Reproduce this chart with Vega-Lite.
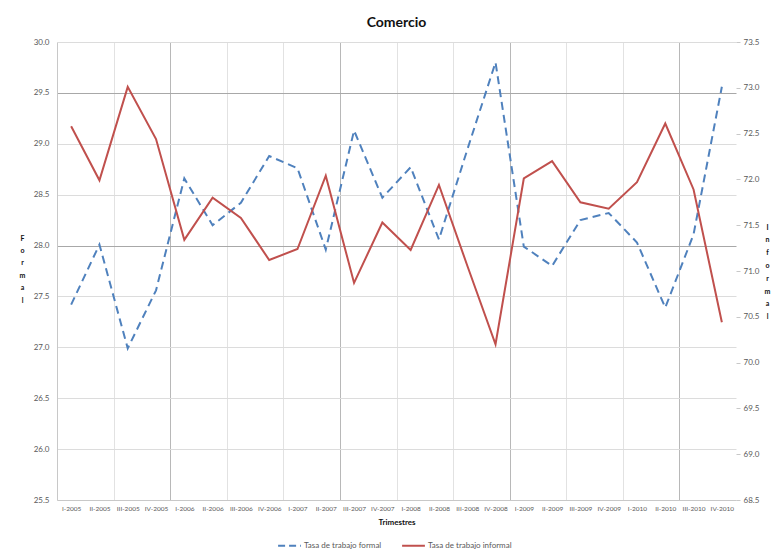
{
  "$schema": "https://vega.github.io/schema/vega-lite/v6.json",
  "autosize": "none",
  "width": 679,
  "height": 458,
  "padding": {"left": 57, "top": 42, "right": 40, "bottom": 57},
  "background": "white",
  "config": {
    "font": "Lato",
    "view": {"stroke": null},
    "axis": {"labelFont": "Lato", "titleFont": "Lato"}
  },
  "title": {
    "text": "Comercio",
    "fontSize": 14,
    "fontWeight": "bold",
    "color": "#111111",
    "anchor": "middle",
    "offset": 8
  },
  "data": {
    "values": [
      {"q": "I-2005", "formal": 27.42, "informal": 72.58},
      {"q": "II-2005", "formal": 28.01, "informal": 71.99},
      {"q": "III-2005", "formal": 26.99, "informal": 73.01},
      {"q": "IV-2005", "formal": 27.56, "informal": 72.44},
      {"q": "I-2006", "formal": 28.66, "informal": 71.34},
      {"q": "II-2006", "formal": 28.2, "informal": 71.8},
      {"q": "III-2006", "formal": 28.42, "informal": 71.58},
      {"q": "IV-2006", "formal": 28.88, "informal": 71.12},
      {"q": "I-2007", "formal": 28.76, "informal": 71.24},
      {"q": "II-2007", "formal": 27.96, "informal": 72.04},
      {"q": "III-2007", "formal": 29.13, "informal": 70.87},
      {"q": "IV-2007", "formal": 28.47, "informal": 71.53},
      {"q": "I-2008", "formal": 28.77, "informal": 71.23},
      {"q": "II-2008", "formal": 28.06, "informal": 71.94},
      {"q": "III-2008", "formal": 28.94, "informal": 71.06},
      {"q": "IV-2008", "formal": 29.8, "informal": 70.2},
      {"q": "I-2009", "formal": 27.99, "informal": 72.01},
      {"q": "II-2009", "formal": 27.8, "informal": 72.2},
      {"q": "III-2009", "formal": 28.25, "informal": 71.75},
      {"q": "IV-2009", "formal": 28.32, "informal": 71.68},
      {"q": "I-2010", "formal": 28.03, "informal": 71.97},
      {"q": "II-2010", "formal": 27.39, "informal": 72.61},
      {"q": "III-2010", "formal": 28.11, "informal": 71.89},
      {"q": "IV-2010", "formal": 29.56, "informal": 70.44}
    ]
  },
  "encoding": {
    "x": {
      "field": "q",
      "type": "ordinal",
      "sort": null,
      "bandPosition": 0.5,
      "scale": {"type": "band", "paddingInner": 0, "paddingOuter": 0},
      "axis": {
        "title": "Trimestres",
        "titleFontSize": 8,
        "titleFontWeight": "bold",
        "titleColor": "#111111",
        "titlePadding": 7,
        "labelAngle": 0,
        "labelFontSize": 6.5,
        "labelColor": "#595959",
        "labelPadding": 5,
        "ticks": false,
        "domain": true,
        "domainColor": "#c8c8c8",
        "tickBand": "extent",
        "grid": true,
        "gridColor": {
          "condition": {
            "test": "indexof(['IV-2005','II-2007','IV-2008','II-2010'], datum.value) >= 0",
            "value": "#b8b8b8"
          },
          "value": "#e2e2e2"
        },
        "gridOpacity": {
          "condition": {
            "test": "indexof(['II-2005','IV-2005','II-2006','IV-2006','II-2007','IV-2007','II-2008','IV-2008','II-2009','IV-2009','II-2010'], datum.value) >= 0",
            "value": 1
          },
          "value": 0
        }
      }
    }
  },
  "layer": [
    {
      "mark": {"type": "line", "strokeWidth": 2, "strokeDash": [8, 5]},
      "encoding": {
        "y": {
          "field": "formal",
          "type": "quantitative",
          "scale": {"domain": [25.5, 30], "nice": false, "zero": false},
          "axis": {
            "orient": "left",
            "values": [25.5, 26, 26.5, 27, 27.5, 28, 28.5, 29, 29.5, 30],
            "format": ".1f",
            "labelFontSize": 8,
            "labelColor": "#595959",
            "labelPadding": 8,
            "ticks": false,
            "domain": true,
            "domainColor": "#c8c8c8",
            "grid": true,
            "gridColor": {
              "condition": {"test": "datum.value == 29.5 || datum.value == 28", "value": "#a8a8a8"},
              "value": "#dcdcdc"
            },
            "title": ["F", "o", "r", "m", "a", "l"],
            "titleAngle": 0,
            "titleAlign": "center",
            "titleBaseline": "middle",
            "titleX": -35,
            "titleY": 196,
            "titleFontSize": 7,
            "titleFontWeight": "bold",
            "titleColor": "#111111",
            "titleLineHeight": 12.4
          }
        },
        "color": {
          "datum": "Tasa de trabajo formal",
          "type": "nominal",
          "scale": {
            "domain": ["Tasa de trabajo formal", "Tasa de trabajo informal"],
            "range": ["#4F81BD", "#C0504D"]
          },
          "legend": {
            "title": null,
            "orient": "none",
            "legendX": 220,
            "legendY": 491,
            "direction": "horizontal",
            "symbolType": "stroke",
            "symbolSize": 520,
            "symbolStrokeWidth": 2,
            "labelFontSize": 8,
            "labelColor": "#595959",
            "labelOffset": 2,
            "columnPadding": 16,
            "encode": {
              "symbols": {
                "update": {
                  "strokeDash": {"signal": "datum.label == 'Tasa de trabajo formal' ? [7, 4] : [1, 0]"}
                }
              }
            }
          }
        }
      }
    },
    {
      "mark": {"type": "line", "strokeWidth": 2},
      "encoding": {
        "y": {
          "field": "informal",
          "type": "quantitative",
          "scale": {"domain": [68.5, 73.5], "nice": false, "zero": false},
          "axis": {
            "orient": "right",
            "values": [68.5, 69, 69.5, 70, 70.5, 71, 71.5, 72, 72.5, 73, 73.5],
            "format": ".1f",
            "labelFontSize": 8,
            "labelColor": "#595959",
            "labelPadding": 3,
            "ticks": true,
            "tickSize": 4,
            "tickColor": "#c8c8c8",
            "domain": false,
            "grid": false,
            "title": ["I", "n", "f", "o", "r", "m", "a", "l"],
            "titleAngle": 0,
            "titleAlign": "center",
            "titleBaseline": "middle",
            "titleX": 31,
            "titleY": 185,
            "titleFontSize": 7,
            "titleFontWeight": "bold",
            "titleColor": "#111111",
            "titleLineHeight": 12.8
          }
        },
        "color": {"datum": "Tasa de trabajo informal", "type": "nominal"}
      }
    }
  ],
  "resolve": {"scale": {"y": "independent"}}
}
